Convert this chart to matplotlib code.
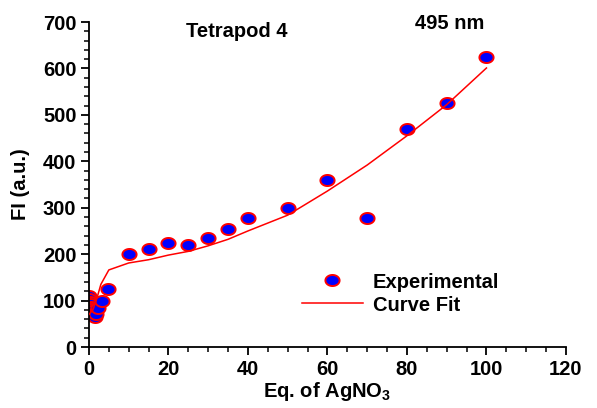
import numpy as np
import matplotlib
matplotlib.use("Agg")
import matplotlib.pyplot as plt
from matplotlib.path import Path
from matplotlib.ticker import MultipleLocator

plt.rcParams['font.family'] = ['Liberation Sans', 'DejaVu Sans']
plt.rcParams['font.weight'] = 'bold'
plt.rcParams['mathtext.fontset'] = 'custom'
plt.rcParams['mathtext.rm'] = 'Liberation Sans:bold'
plt.rcParams['mathtext.bf'] = 'Liberation Sans:bold'
plt.rcParams['mathtext.it'] = 'Liberation Sans:bold'

# Experimental data
exp_x = [0, 0.1, 0.2, 0.3, 0.4, 0.5, 0.7, 0.9, 1.1, 1.4, 1.8, 2.2, 3.2, 4.9,
         10, 15, 20, 25, 30, 35, 40, 50, 60, 70, 80, 90, 100]
exp_y = [110, 104, 98, 92, 87, 82, 77, 72, 68, 64, 72, 84, 99, 126,
         200, 212, 224, 220, 235, 254, 277, 299, 360, 277, 469, 525, 624]

# Curve fit
fit_x = [0, 1, 2, 3, 5, 10, 15, 20, 25, 30, 35, 40, 50, 60, 70, 80, 90, 100]
fit_y = [70, 80, 105, 135, 166, 181, 188, 198, 206, 218, 232, 250, 284, 336, 392, 455, 522, 601]

fig = plt.figure(figsize=(5.97, 4.08), dpi=100)
ax = fig.add_axes([0.149, 0.1495, 0.799, 0.7965])

t = np.linspace(0, 2 * np.pi, 60)
ellipse = Path(np.column_stack([np.cos(t), 0.78 * np.sin(t)]), closed=True)

ax.plot(exp_x, exp_y, linestyle='none', marker=ellipse, markersize=10.2,
        markerfacecolor='#0000ff', markeredgecolor='#ff0000', markeredgewidth=1.4,
        label='Experimental', zorder=2)
ax.plot(fit_x, fit_y, color='#ff0000', linewidth=1.1, label='Curve Fit', zorder=3)

ax.set_xlim(0, 120)
ax.set_ylim(0, 700)
ax.spines['top'].set_visible(False)
ax.spines['right'].set_visible(False)
ax.spines['left'].set_linewidth(1.3)
ax.spines['bottom'].set_linewidth(1.3)
ax.xaxis.set_major_locator(MultipleLocator(20))
ax.xaxis.set_minor_locator(MultipleLocator(5))
ax.yaxis.set_major_locator(MultipleLocator(100))
ax.yaxis.set_minor_locator(MultipleLocator(20))
ax.tick_params(which='major', direction='out', length=6, width=1.3, labelsize=14.5, pad=3)
ax.tick_params(which='minor', direction='out', length=3.5, width=1.1)
for lab in ax.get_xticklabels() + ax.get_yticklabels():
    lab.set_fontweight('bold')

ax.set_xlabel('Eq. of AgNO$_3$', fontsize=14.5, fontweight='bold', labelpad=1)
ax.set_ylabel('FI (a.u.)', fontsize=14.5, fontweight='bold', labelpad=9)

ax.text(24.4, 680, 'Tetrapod 4', fontsize=14.5, fontweight='bold', va='center', ha='left')
ax.text(82, 696, '495 nm', fontsize=14.5, fontweight='bold', va='center', ha='left')

leg = ax.legend(loc='upper left', bbox_to_anchor=(0.43, 0.254), frameon=False,
                fontsize=14.5, handlelength=3.0, handletextpad=0.5, labelspacing=0.2,
                borderaxespad=0)
for txt in leg.get_texts():
    txt.set_fontweight('bold')

fig.savefig('out.png', dpi=100)
